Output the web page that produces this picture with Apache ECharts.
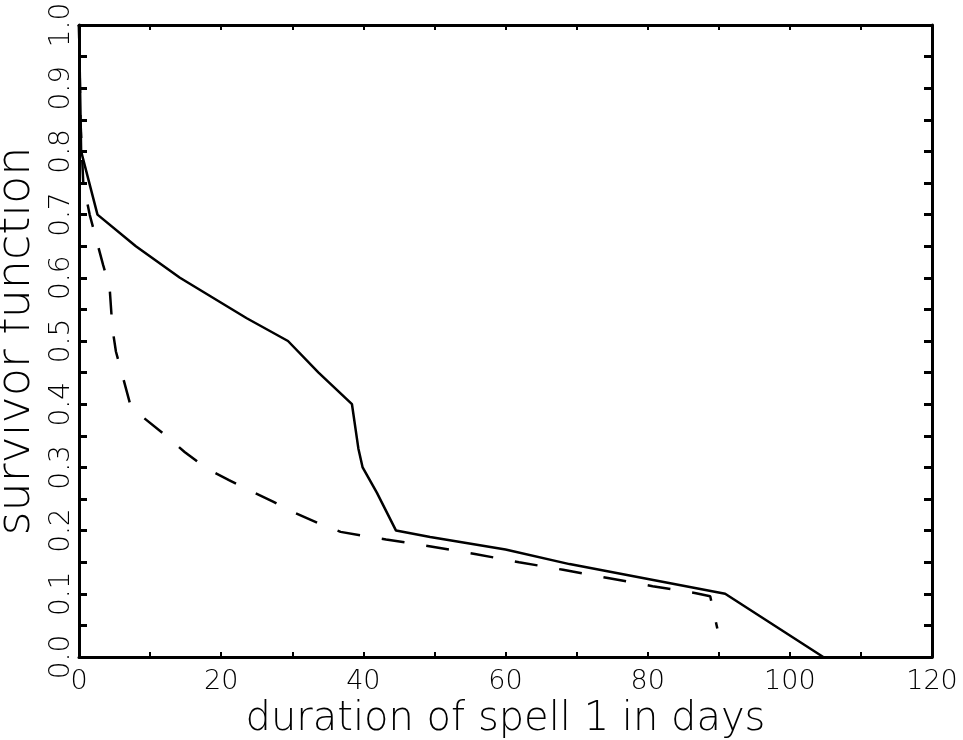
<!DOCTYPE html>
<html><head><meta charset="utf-8">
<script src="https://cdn.jsdelivr.net/npm/echarts@6/dist/echarts.min.js"></script>
<style>html,body{margin:0;padding:0;background:#fff}#c{width:963px;height:740px}</style>
</head><body><div id="c"></div>
<script>
// Data
var solidX = [0, 0.3, 2.6, 8, 14.2, 23.6, 29.4, 33.7, 38.4, 39.3, 39.9, 41.9, 44.6, 49.4, 60, 69, 81.7, 90.9, 104.7];
var solidY = [1.0, 0.80, 0.70, 0.65, 0.60, 0.536, 0.50, 0.45, 0.40, 0.33, 0.30, 0.26, 0.20, 0.19, 0.17, 0.147, 0.12, 0.10, 0.0];
var dashX = [0, 0.2, 0.6, 1.5, 3.4, 4.3, 4.7, 5.2, 6.0, 7.2, 8.5, 11.8, 14.9, 18.1, 21.1, 24.3, 27.3, 30.4, 33.5, 36.8, 39.8, 43.2, 49.5, 55.7, 61.9, 68.1, 74.4, 80.7, 86.8, 88.8, 89.8];
var dashY = [1.0, 0.85, 0.75, 0.70, 0.62, 0.586, 0.52, 0.483, 0.45, 0.40, 0.384, 0.354, 0.324, 0.297, 0.28, 0.262, 0.246, 0.228, 0.2125, 0.198, 0.192, 0.186, 0.175, 0.163, 0.15, 0.138, 0.125, 0.112, 0.101, 0.096, 0.045];
var xTicks = [0, 20, 40, 60, 80, 100, 120];
var yTicks = [0.0, 0.1, 0.2, 0.3, 0.4, 0.5, 0.6, 0.7, 0.8, 0.9, 1.0];
var xName = 'duration of spell 1 in days';
var yName = 'survivor function';

function zip(a, b) { return a.map(function (v, i) { return [v, b[i]]; }); }

var FONT = 'DejaVu Sans';
var chart = echarts.init(document.getElementById('c'), null, {renderer: 'canvas'});
var axisLine = {show: true, onZero: false, lineStyle: {color: '#000', width: 3}};
chart.setOption({
  animation: false,
  backgroundColor: '#fff',
  grid: {left: 79, right: 31, top: 25, bottom: 83, containLabel: false, outerBoundsMode: 'none'},
  xAxis: [{
    type: 'value', min: xTicks[0], max: xTicks[xTicks.length - 1], interval: 20,
    position: 'bottom',
    axisLine: axisLine,
    axisTick: {show: true, inside: true, length: 5, lineStyle: {color: '#000', width: 2}},
    minorTick: {show: true, splitNumber: 2, length: 5, lineStyle: {color: '#000', width: 2}},
    splitLine: {show: false},
    axisLabel: {show: true, margin: 11, fontFamily: FONT, fontSize: 27, fontWeight: 300, color: '#000',
      formatter: function (v) { return String(v); }},
    name: xName, nameLocation: 'middle', nameGap: 38,
    nameTextStyle: {fontFamily: FONT, fontSize: 40, fontWeight: 300, color: '#000', verticalAlign: 'top'}
  }, {
    type: 'value', min: xTicks[0], max: xTicks[xTicks.length - 1], interval: 20,
    position: 'top',
    axisLine: axisLine,
    axisTick: {show: true, inside: true, length: 5, lineStyle: {color: '#000', width: 2}},
    minorTick: {show: true, splitNumber: 2, length: 5, lineStyle: {color: '#000', width: 2}},
    splitLine: {show: false},
    axisLabel: {show: false}
  }],
  yAxis: [{
    type: 'value', min: 0, max: 1, interval: 0.1,
    position: 'left',
    axisLine: axisLine,
    axisTick: {show: true, inside: true, length: 8, lineStyle: {color: '#000', width: 3}},
    minorTick: {show: true, splitNumber: 2, length: 8, lineStyle: {color: '#000', width: 3}},
    splitLine: {show: false},
    axisLabel: {show: true, rotate: 90, margin: 3, fontFamily: FONT, fontSize: 28, fontWeight: 300, color: '#000',
      formatter: function (v) { return v.toFixed(1); }},
    name: yName, nameLocation: 'middle', nameGap: 32,
    nameTextStyle: {fontFamily: FONT, fontSize: 46, fontWeight: 300, color: '#000'}
  }, {
    type: 'value', min: 0, max: 1, interval: 0.1,
    position: 'right',
    axisLine: axisLine,
    axisTick: {show: true, inside: true, length: 8, lineStyle: {color: '#000', width: 3}},
    minorTick: {show: true, splitNumber: 2, length: 8, lineStyle: {color: '#000', width: 3}},
    splitLine: {show: false},
    axisLabel: {show: false}
  }],
  series: [{
    type: 'line', xAxisIndex: 0, yAxisIndex: 0, data: zip(solidX, solidY),
    showSymbol: false, symbol: 'none', silent: true,
    lineStyle: {color: '#000', width: 2.5, type: 'solid'}
  }, {
    type: 'line', xAxisIndex: 0, yAxisIndex: 0, data: zip(dashX, dashY),
    showSymbol: false, symbol: 'none', silent: true,
    lineStyle: {color: '#000', width: 2.5, type: [23, 22]}
  }]
});
</script></body></html>
